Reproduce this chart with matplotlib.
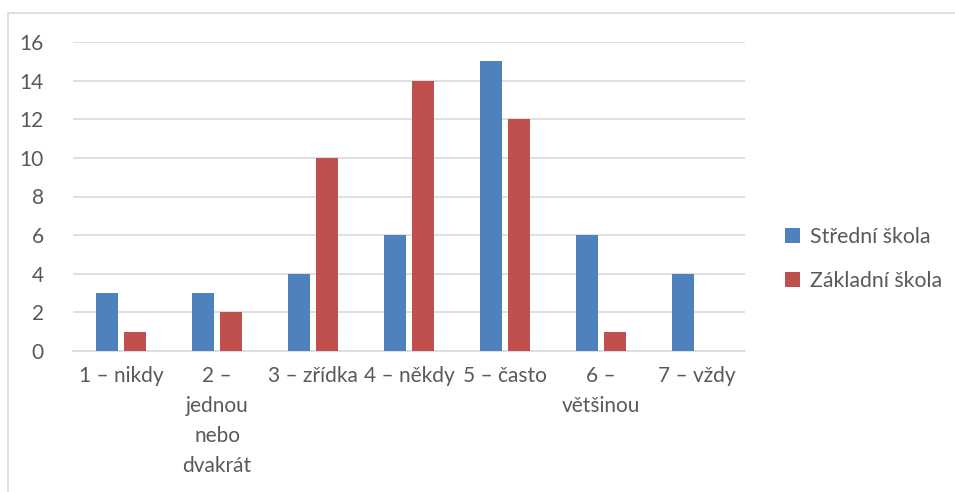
import matplotlib
matplotlib.use("Agg")
import matplotlib.pyplot as plt
from matplotlib.patches import Rectangle
import numpy as np

categories = ["1 – nikdy", "2 –\njednou\nnebo\ndvakrát", "3 – zřídka", "4 – někdy",
              "5 – často", "6 –\nvětšinou", "7 – vždy"]
series_names = ["Střední škola", "Základní škola"]
stredni = [3, 3, 4, 6, 15, 6, 4]
zakladni = [1, 2, 10, 14, 12, 1, 0]
yticks = [0, 2, 4, 6, 8, 10, 12, 14, 16]

blue = "#4F81BD"
red = "#C0504D"
txt = "#595959"

plt.rcParams['font.family'] = ['Lato', 'DejaVu Sans']

W, H = 955, 492
fig = plt.figure(figsize=(W / 100, H / 100), dpi=100)
fig.patch.set_facecolor("white")

# outer chart border
fig.add_artist(Rectangle((8 / W, -0.1), 1.2, 1 - 13 / H + 0.1, transform=fig.transFigure,
                         fill=False, edgecolor="#D9D9D9", linewidth=1.2))

ax = fig.add_axes([73 / W, 1 - 351 / H, (745 - 73) / W, (351 - 42) / H])
x = np.arange(len(categories))
bw = 0.229
off = 0.146
ax.bar(x - off, stredni, bw, color=blue, label=series_names[0], zorder=3)
ax.bar(x + off, zakladni, bw, color=red, label=series_names[1], zorder=3)

ax.set_xlim(-0.5, len(categories) - 0.5)
ax.set_ylim(0, 16)
ax.set_yticks(yticks)
ax.set_yticklabels([str(v) for v in yticks], fontsize=15, color=txt)
ax.yaxis.grid(True, color="#D9D9D9", linewidth=1.2, zorder=0)
ax.set_xticks(x)
ax.set_xticklabels(categories, fontsize=15, color=txt, linespacing=1.62, va="top")
ax.tick_params(axis="both", length=0)
ax.tick_params(axis="y", pad=21)
ax.tick_params(axis="x", pad=11)
for s in ["top", "right", "left"]:
    ax.spines[s].set_visible(False)
ax.spines["bottom"].set_color("#D9D9D9")
ax.spines["bottom"].set_linewidth(1.2)
ax.set_axisbelow(True)

leg = fig.legend(loc="center left", bbox_to_anchor=(766 / W, 1 - 259 / H), frameon=False,
                 fontsize=15.3, handlelength=0.7, handleheight=0.7, handletextpad=0.45,
                 labelspacing=1.15, labelcolor=txt)

fig.savefig("out.png", dpi=100, facecolor="white")
